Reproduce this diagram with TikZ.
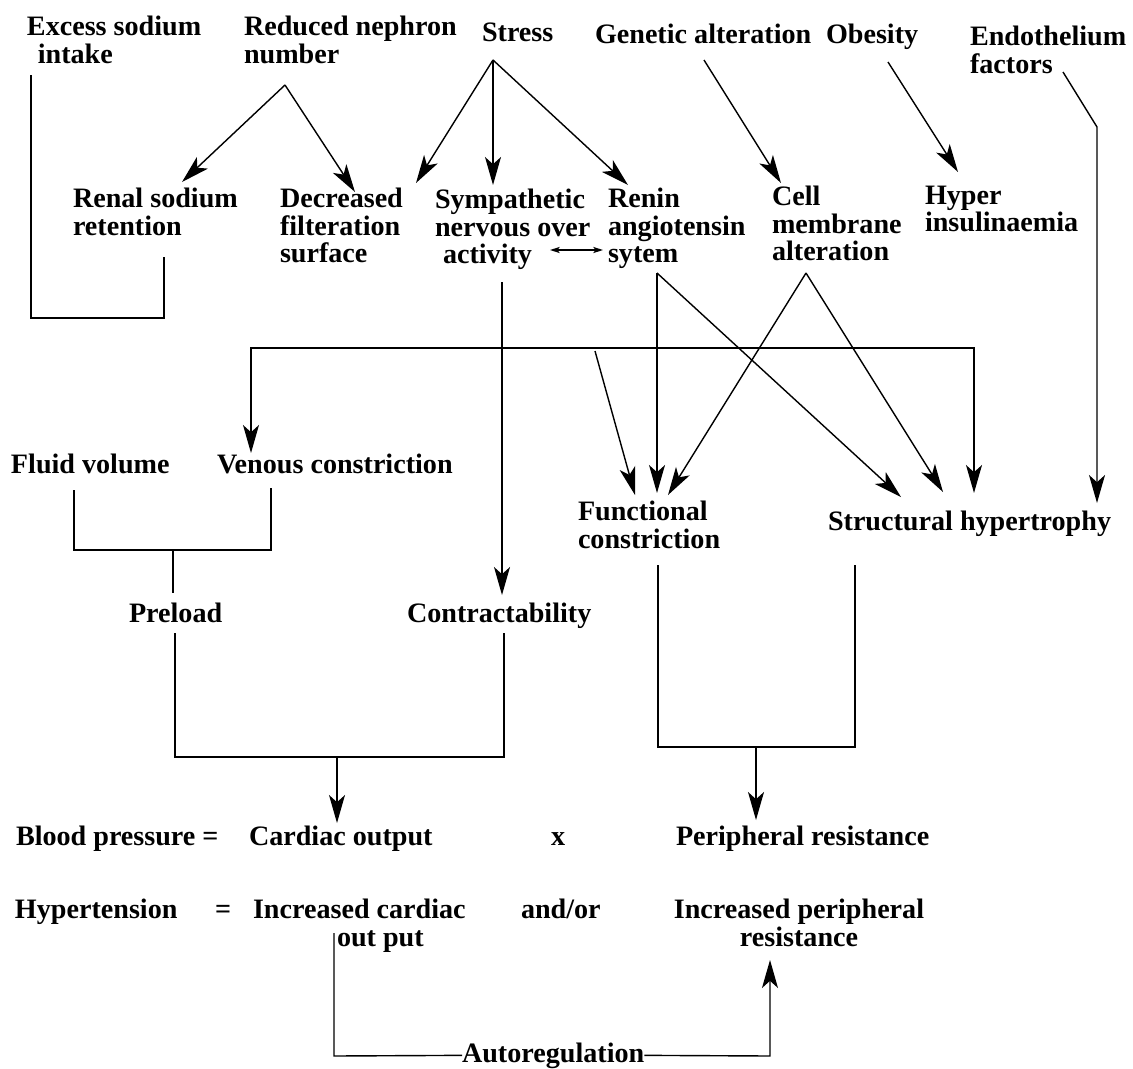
\documentclass[tikz,border=0pt]{standalone}
\usepackage{fontspec}
\setmainfont{Liberation Serif}
\usetikzlibrary{arrows.meta}
\newcommand\lblfont{\fontsize{20}{19.6}\selectfont\bfseries}
\begin{document}
\begin{tikzpicture}[x=0.025cm,y=-0.025cm,
  lbl/.style={inner sep=0pt,outer sep=0pt,font=\lblfont,align=left},
  ln/.style={line width=1pt},
  bigtip/.tip={Stealth[length=0.7cm,width=0.4cm,inset=0.18cm]},
  smalltip/.tip={Stealth[length=0.24cm,width=0.15cm,inset=0.05cm]},
  arr/.style={ln,-{bigtip}}]
\useasboundingbox (0,0) rectangle (1133,1068);
% ---------- labels ----------
\node[lbl,anchor=north west] (excess) at (27,16) {Excess sodium\\\hspace*{0.27cm}intake};
\node[lbl,anchor=north west] (reduced) at (244,16) {Reduced nephron\\number};
\node[lbl,anchor=base west] (stress) at (482,41) {Stress};
\node[lbl,anchor=base west] (genetic) at (595,43) {Genetic alteration};
\node[lbl,anchor=base west] (obesity) at (826,43) {Obesity};
\node[lbl,anchor=north west] (endo) at (970,26) {Endothelium\\factors};
\node[lbl,anchor=north west] (renal) at (73,188) {Renal sodium\\retention};
\node[lbl,anchor=north west] (decr) at (280,188) {Decreased\\filteration\\surface};
\node[lbl,anchor=north west] (symp) at (435,189) {Sympathetic\\nervous over\\\hspace*{0.2cm}activity};
\node[lbl,anchor=north west] (renin) at (608,188) {Renin\\angiotensin\\sytem};
\node[lbl,anchor=north west] (cell) at (772,186) {Cell\\membrane\\alteration};
\node[lbl,anchor=north west] (hyper) at (925,186) {Hyper\\insulinaemia};
\node[lbl,anchor=base west] (fluid) at (11,473) {Fluid volume};
\node[lbl,anchor=base west] (venous) at (217,473) {Venous constriction};
\node[lbl,anchor=north west] (func) at (578,501) {Functional\\constriction};
\node[lbl,anchor=base west] (struct) at (828,530) {Structural hypertrophy};
\node[lbl,anchor=base west] (preload) at (129,622) {Preload};
\node[lbl,anchor=base west] (contr) at (407,622) {Contractability};
\node[lbl,anchor=base west] (bp) at (16,845) {Blood pressure =};
\node[lbl,anchor=base west] (co) at (249,845) {Cardiac output};
\node[lbl,anchor=base west] (times) at (551,845) {x};
\node[lbl,anchor=base west] (pr) at (676,845) {Peripheral resistance};
\node[lbl,anchor=base west] (ht) at (15,918) {Hypertension};
\node[lbl,anchor=base west] (eq) at (215,918) {=};
\node[lbl,anchor=north west] (ico) at (253,899) {Increased cardiac\\\hspace*{2.1cm}out put};
\node[lbl,anchor=base west] (andor) at (521,918) {and/or};
\node[lbl,anchor=north,align=center] (ipr) at (799,899) {Increased peripheral\\resistance};
\node[lbl,anchor=base west] (auto) at (462,1062) {Autoregulation};
% ---------- coordinates ----------
\coordinate (exTop) at (31,75);   \coordinate (exBot) at (31,318);
\coordinate (reBot) at (164,318); \coordinate (reTop) at (164,257);
\coordinate (redApex) at (285,85); \coordinate (renalTip) at (182,182); \coordinate (decrTipA) at (355,192);
\coordinate (stApex) at (493,60); \coordinate (decrTipB) at (416,183); \coordinate (sympTip) at (493,185); \coordinate (reninTip) at (628,185);
\coordinate (genS) at (704,60); \coordinate (cellTip) at (781,183);
\coordinate (obS) at (888,62); \coordinate (hypTip) at (958,172);
\coordinate (endoS) at (1063,72); \coordinate (endoK) at (1097,127); \coordinate (endoTip) at (1097,503);
\coordinate (sympR) at (550,250); \coordinate (reninL) at (603,250);
\coordinate (sympB) at (502,282); \coordinate (contrTip) at (502,595);
\coordinate (venTip) at (251,453); \coordinate (hL) at (251,348); \coordinate (hR) at (974,348); \coordinate (strTipC) at (974,493);
\coordinate (diagS) at (595,351); \coordinate (funcTipA) at (635,495);
\coordinate (reninB) at (657,273); \coordinate (funcTipB) at (657,493); \coordinate (strTipA) at (901,497);
\coordinate (cellB) at (806,273); \coordinate (funcTipC) at (668,495); \coordinate (strTipB) at (943,492);
\coordinate (fluidB) at (74,490); \coordinate (fluidK) at (74,550); \coordinate (venK) at (271,550); \coordinate (venB) at (271,488);
\coordinate (stubT) at (173,550); \coordinate (stubB) at (173,593);
\coordinate (plB) at (175,633); \coordinate (plK) at (175,757); \coordinate (ctK) at (504,757); \coordinate (ctB) at (504,633);
\coordinate (coS) at (337,757); \coordinate (coTip) at (337,823);
\coordinate (fcB) at (658,565); \coordinate (fcK) at (658,747); \coordinate (stK) at (855,747); \coordinate (stB) at (855,565);
\coordinate (prS) at (756,747); \coordinate (prTip) at (756,820);
\coordinate (icoB) at (334,933); \coordinate (icoK) at (334,1056); \coordinate (iprK) at (770,1056); \coordinate (iprTip) at (770,960);
% ---------- connectors ----------
\draw[ln] (exTop) -- (exBot) -- (reBot) -- (reTop);
\draw[arr] (redApex) -- (renalTip);
\draw[arr] (redApex) -- (decrTipA);
\draw[arr] (stApex) -- (decrTipB);
\draw[arr] (stApex) -- (sympTip);
\draw[arr] (stApex) -- (reninTip);
\draw[arr] (genS) -- (cellTip);
\draw[arr] (obS) -- (hypTip);
\draw[arr] (endoS) -- (endoK) -- (endoTip);
\draw[ln,{smalltip}-{smalltip}] (sympR) -- (reninL);
\draw[arr] (sympB) -- (contrTip);
\draw[ln,{bigtip}-{bigtip}] (venTip) -- (hL) -- (hR) -- (strTipC);
\draw[arr] (diagS) -- (funcTipA);
\draw[arr] (reninB) -- (funcTipB);
\draw[arr] (reninB) -- (strTipA);
\draw[arr] (cellB) -- (funcTipC);
\draw[arr] (cellB) -- (strTipB);
\draw[ln] (fluidB) -- (fluidK) -- (venK) -- (venB);
\draw[ln] (stubT) -- (stubB);
\draw[ln] (plB) -- (plK) -- (ctK) -- (ctB);
\draw[arr] (coS) -- (coTip);
\draw[ln] (fcB) -- (fcK) -- (stK) -- (stB);
\draw[arr] (prS) -- (prTip);
\draw[ln] (icoB) -- (icoK) -- (auto.west);
\draw[arr] (auto.east) -- (iprK) -- (iprTip);
\end{tikzpicture}
\end{document}
